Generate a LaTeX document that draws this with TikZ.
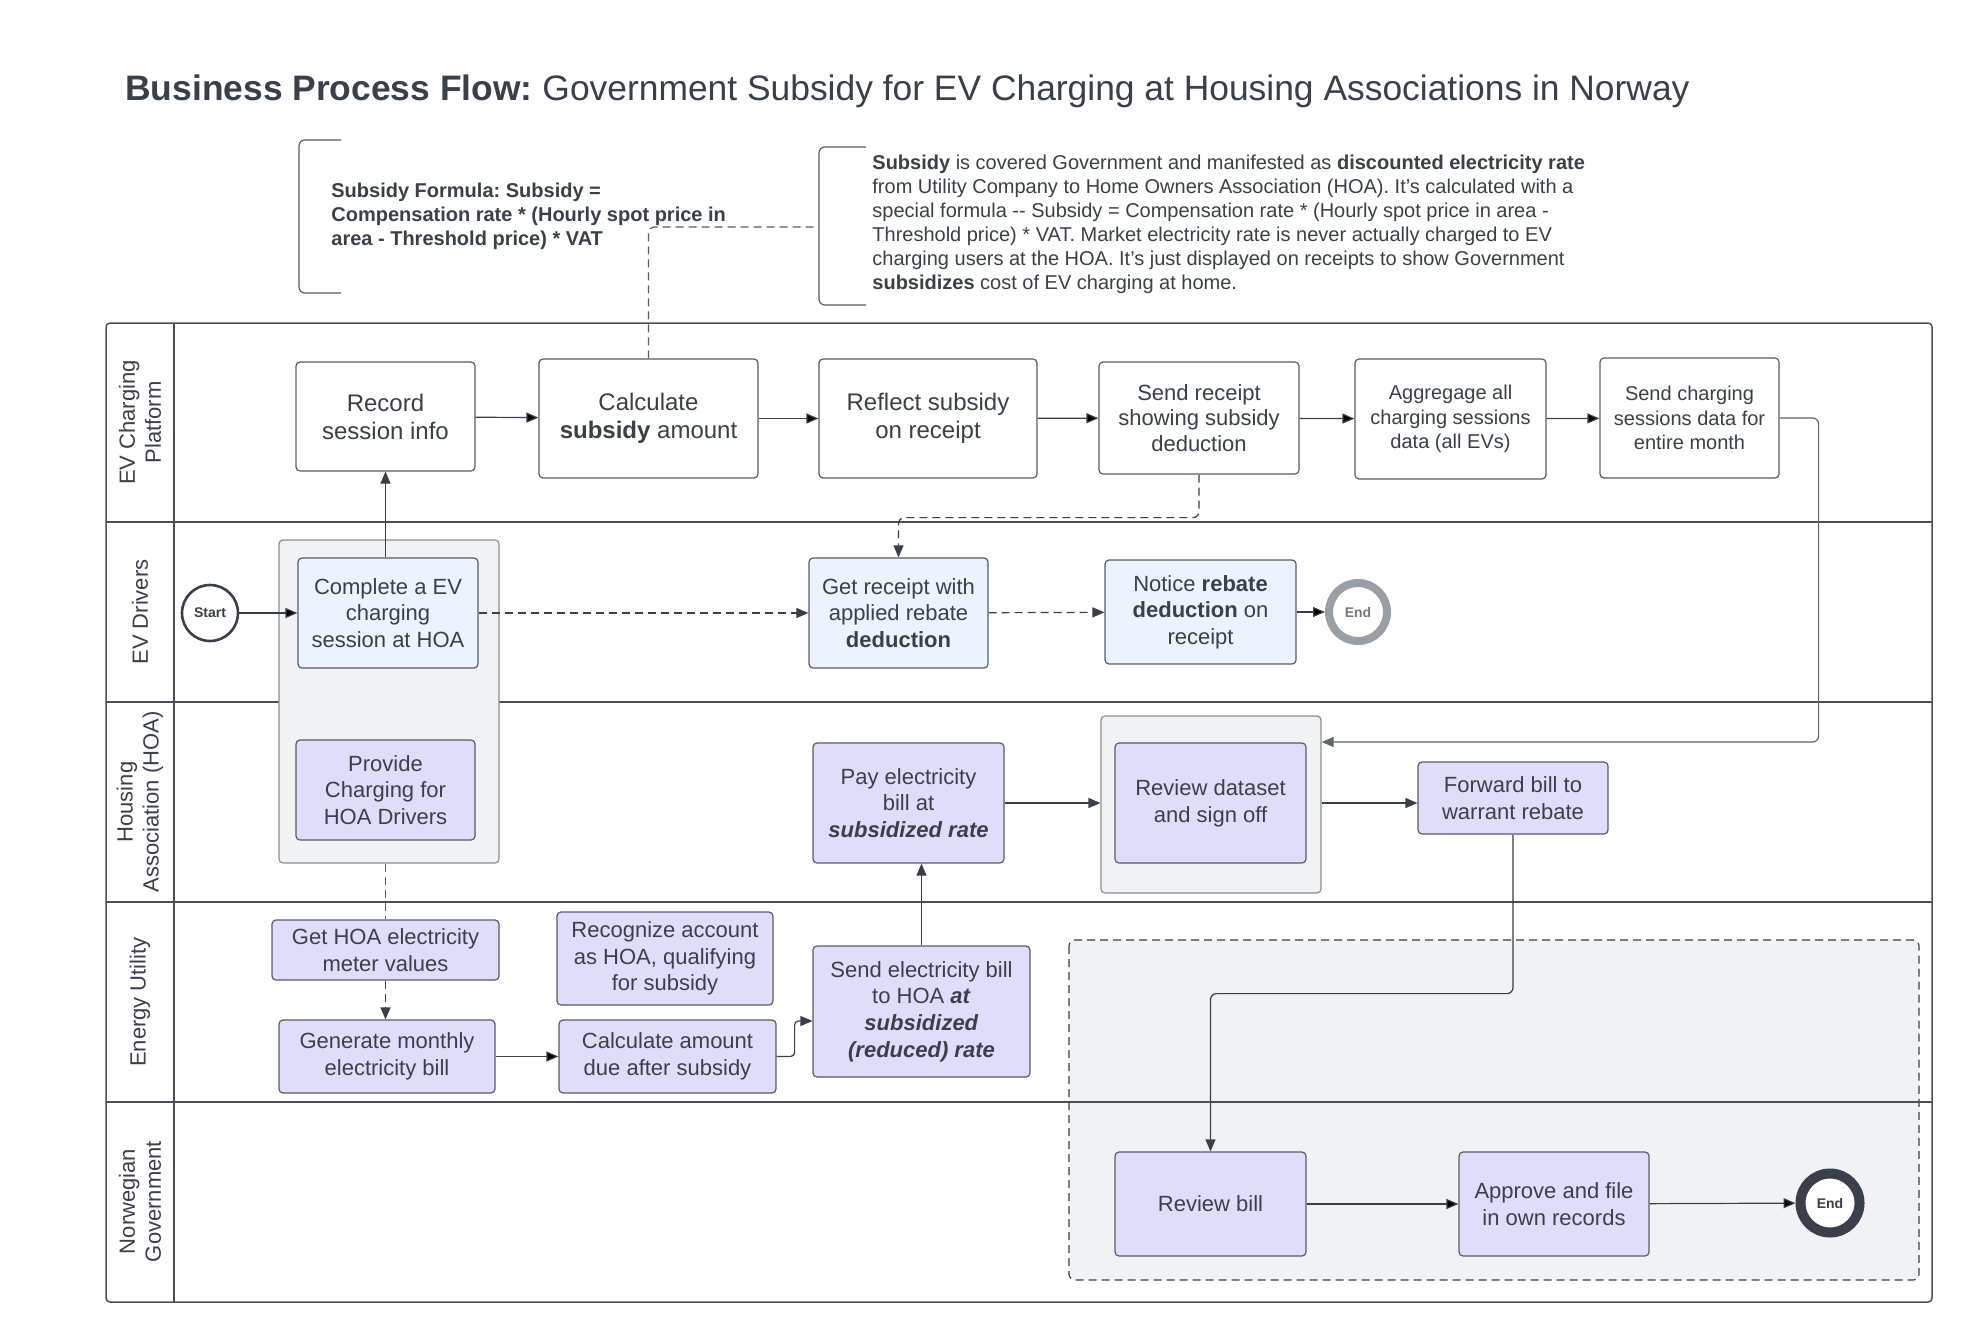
\documentclass[tikz,border=0pt]{standalone}
\usepackage{fontspec}
\setmainfont{Liberation Sans}
\usepackage{xcolor}
\usepackage{tikz}
\usetikzlibrary{arrows.meta}
\frenchspacing

\definecolor{ink}{HTML}{3A4049}
\definecolor{lanec}{HTML}{4B5058}
\definecolor{drvfill}{HTML}{ECF3FE}
\definecolor{lavfill}{HTML}{DEDEFA}
\definecolor{grpfill}{HTML}{F1F2F4}
\definecolor{grpline}{HTML}{8A8E94}
\definecolor{endgray}{HTML}{9A9FA6}

\begin{document}
\begin{tikzpicture}[x=0.5pt, y=-0.5pt, >={Stealth[length=6pt,width=5pt,inset=0pt]},
		every node/.style={text=ink},
		task/.style={draw=ink!85, line width=0.6pt, rounded corners=2pt, align=center, inner sep=2pt, font=\fontsize{11}{13.3}\selectfont},
		plat/.style={task, fill=white},
		drv/.style={task, fill=drvfill},
		lav/.style={task, fill=lavfill},
		grp/.style={draw=grpline, line width=0.6pt, fill=grpfill, rounded corners=2pt},
		lanelbl/.style={rotate=90, align=center, font=\fontsize{11}{13}\selectfont},
		flow/.style={->, draw=ink, line width=0.6pt},
		dashln/.style={dash pattern=on 4pt off 2.5pt},
		evt/.style={circle, inner sep=0pt, fill=white, font=\bfseries\fontsize{7}{8}\selectfont},
		note/.style={align=left, anchor=west, inner sep=0pt, font=\fontsize{10}{12}\selectfont}]

	\useasboundingbox[fill=white] (0,0) rectangle (1973,1343);

	\node[anchor=west, inner sep=0pt, font=\fontsize{17.7}{21}\selectfont] (title) at (125,91) {\textbf{Business Process Flow:} Government Subsidy for EV Charging at Housing Associations in Norway};

	\draw[ink!85, line width=0.6pt, rounded corners=3pt] (341,140) -- (299,140) -- (299,293) -- (341,293);
	\node[note, font=\bfseries\fontsize{10}{12}\selectfont] (formula) at (331,216) {Subsidy Formula: Subsidy =\\Compensation rate * (Hourly spot price in\\area - Threshold price) * VAT};
	\draw[ink!85, line width=0.6pt, rounded corners=3pt] (866,147) -- (819,147) -- (819,305) -- (866,305);
	\node[note] (subnote) at (872,224) {\textbf{Subsidy} is covered Government and manifested as \textbf{discounted electricity rate}\\
		from Utility Company to Home Owners Association (HOA). It's calculated with a\\
		special formula {-}{-} Subsidy = Compensation rate * (Hourly spot price in area -\\
		Threshold price) * VAT. Market electricity rate is never actually charged to EV\\
		charging users at the HOA. It's just displayed on receipts to show Government\\
		\textbf{subsidizes} cost of EV charging at home.};
	\coordinate (hook) at (819,227);

	\draw[dashln, draw=ink, line width=0.6pt, fill=grpfill, rounded corners=3pt] (1069,940) rectangle (1919,1280);

	\draw[lanec, line width=0.75pt, rounded corners=2pt] (106,323) rectangle (1932,1302);
	\foreach \y in {522,702,902,1102}
		\draw[lanec, line width=0.75pt] (106,\y) -- (1932,\y);
	\draw[lanec, line width=0.75pt] (174,323) -- (174,1302);

	\node[lanelbl] (l1) at (140,422.5) {EV Charging\\Platform};
	\node[lanelbl] (l2) at (140,612) {EV Drivers};
	\node[lanelbl] (l3) at (140,802) {Housing\\Association (HOA)};
	\node[lanelbl] (l4) at (140,1002) {Energy Utility};
	\node[lanelbl] (l5) at (140,1201.5) {Norwegian\\Government};

	\node[grp, minimum width=110pt, minimum height=161.5pt] (hoagrp) at (389,701.5) {};
	\node[grp, minimum width=110pt, minimum height=88.5pt] (signgrp) at (1211,804.5) {};

	\node[plat, font=\fontsize{12}{14}\selectfont, minimum width=89.5pt, minimum height=54.5pt] (rec) at (385.5,416.5) {Record\\session info};
	\node[plat, font=\fontsize{12}{14}\selectfont, minimum width=109.5pt, minimum height=59.5pt] (calc) at (648.5,418.5) {Calculate\\\textbf{subsidy} amount};
	\node[plat, font=\fontsize{12}{14}\selectfont, minimum width=109pt, minimum height=59.5pt] (refl) at (928,418.5) {Reflect subsidy\\on receipt};
	\node[plat, font=\fontsize{11}{12.8}\selectfont, minimum width=100pt, minimum height=56pt] (sendrc) at (1199,418) {Send receipt\\showing subsidy\\deduction};
	\node[plat, font=\fontsize{10}{12.3}\selectfont, minimum width=95.5pt, minimum height=60pt] (aggr) at (1450.5,419) {Aggregage all\\charging sessions\\data (all EVs)};
	\node[plat, font=\fontsize{10}{12.3}\selectfont, minimum width=89.5pt, minimum height=60pt] (sendcs) at (1689.5,418) {Send charging\\sessions data for\\entire month};

	\node[evt, draw=ink, line width=1.3pt, minimum size=28pt] (start) at (210,613) {Start};
	\node[drv, minimum width=90pt, minimum height=55pt] (compl) at (388,613) {Complete a EV\\charging\\session at HOA};
	\node[drv, minimum width=89.5pt, minimum height=55pt] (getrc) at (898.5,613) {Get receipt with\\applied rebate\\\textbf{deduction}};
	\node[drv, minimum width=95.5pt, minimum height=52pt] (notice) at (1200.5,612) {Notice \textbf{rebate}\\\textbf{deduction} on\\receipt};
	\node[evt, draw=endgray, line width=4pt, minimum size=29pt, text=ink!70] (drvend) at (1358,612) {End};

	\node[lav, minimum width=89.5pt, minimum height=50pt] (prov) at (385.5,790) {Provide\\Charging for\\HOA Drivers};
	\node[lav, minimum width=95.5pt, minimum height=60pt] (pay) at (908.5,803) {Pay electricity\\bill at\\\textbf{\textit{subsidized rate}}};
	\node[lav, minimum width=95.5pt, minimum height=60pt] (revds) at (1210.5,803) {Review dataset\\and sign off};
	\node[lav, minimum width=95pt, minimum height=36pt] (fwd) at (1513,798) {Forward bill to\\warrant rebate};

	\node[lav, minimum width=113.5pt, minimum height=30pt] (gethoa) at (385.5,950) {Get HOA electricity\\meter values};
	\node[lav, minimum width=108pt, minimum height=36.5pt] (gen) at (387,1056.5) {Generate monthly\\electricity bill};
	\node[lav, minimum width=108pt, minimum height=46.5pt] (recog) at (665,958.5) {Recognize account\\as HOA, qualifying\\for subsidy};
	\node[lav, minimum width=108.5pt, minimum height=36.5pt] (calcd) at (667.5,1056.5) {Calculate amount\\due after subsidy};
	\node[lav, minimum width=108.5pt, minimum height=65.5pt] (sendb) at (921.5,1011.5) {Send electricity bill\\to HOA \textbf{\textit{at}}\\\textbf{\textit{subsidized}}\\\textbf{\textit{(reduced) rate}}};

	\node[lav, minimum width=95.5pt, minimum height=52pt] (revb) at (1210.5,1204) {Review bill};
	\node[lav, minimum width=95pt, minimum height=52pt] (appr) at (1554,1204) {Approve and file\\in own records};
	\node[evt, draw=ink, line width=5pt, minimum size=29.5pt] (govend) at (1830,1203) {End};

	\path[flow]
		(rec) edge (calc)
		(calc) edge (refl)
		(refl) edge (sendrc)
		(sendrc) edge (aggr)
		(aggr) edge (sendcs)
		(start) edge (compl)
		(notice) edge (drvend)
		(gen) edge (calcd)
		(revb) edge (appr)
		(appr) edge (govend);

	\draw[dashln, draw=ink!85, line width=0.6pt, rounded corners=3pt] (calc.north) |- (hook);
	\draw[flow] (rec.south |- compl.north) -- (rec.south);
	\draw[flow, dashln] (compl) -- (getrc);
	\draw[flow, dashln] (getrc) -- (notice);
	\draw[flow, dashln, rounded corners=3pt] (sendrc.south) -- ++(0,43) -| (getrc.north);
	\draw[flow, draw=ink!80, rounded corners=3pt] (sendcs.east) -- ++(39,0) |- ([yshift=31.25pt]signgrp.east);
	\draw[flow] (pay.east) -- (pay.east -| signgrp.west);
	\draw[flow] (signgrp.east |- revds) -- (fwd.west |- revds);
	\draw[dashln, draw=ink!85, line width=0.6pt] (gethoa.north |- hoagrp.south) -- (gethoa.north);
	\draw[flow, dashln] (gethoa.south) -- (gethoa.south |- gen.north);
	\draw[flow, rounded corners=2pt] (calcd.east) -- ++(18,0) |- ([yshift=-4.75pt]sendb.west);
	\draw[flow] (sendb.north) -- (sendb.north |- pay.south);
	\draw[flow, draw=ink, rounded corners=3pt] (fwd.south) -- ++(0,159) -| (revb.north);
\end{tikzpicture}
\end{document}
